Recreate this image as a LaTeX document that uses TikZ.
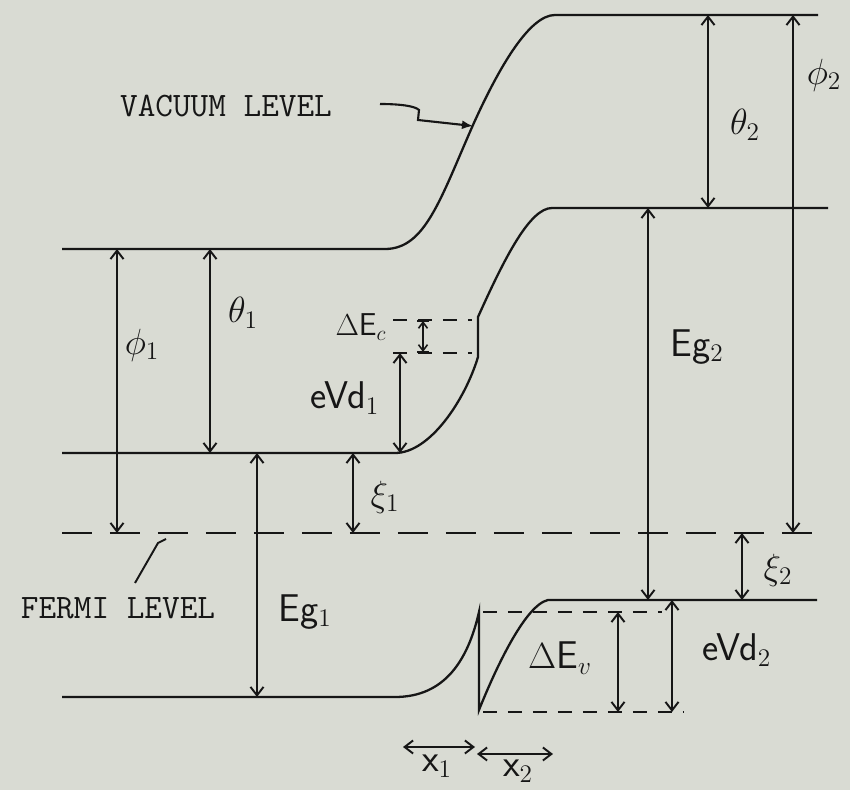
\documentclass[tikz,border=0pt]{standalone}
\usepackage{fontspec}
\usetikzlibrary{arrows.meta}
\definecolor{paper}{RGB}{217,219,211}
\definecolor{ink}{RGB}{22,22,22}

\begin{document}
\begin{tikzpicture}[x=0.02cm,y=-0.02cm,
    level/.style={line width=1.3pt,ink},
    fermi/.style={line width=1.2pt,ink,dash pattern=on 0.6cm off 0.36cm},
    offset/.style={line width=1pt,ink,dash pattern=on 0.28cm off 0.22cm},
    dim/.style={line width=1.1pt,ink,{Straight Barb[length=1.7mm,width=2.6mm]}-{Straight Barb[length=1.7mm,width=2.6mm]}},
    tw/.style={font=\ttfamily\fontsize{19.5}{21}\selectfont,text=ink},
    hw/.style={font=\sffamily\fontsize{22}{24}\selectfont,text=ink}
]
    \fill[paper] (0,0) rectangle (850,790);
    \useasboundingbox (0,0) rectangle (850,790);

    % Vacuum level
    \draw[level] (62,249) -- (385,249) .. controls (425,249) and (440,200) .. (473,125)
        .. controls (500,65) and (530,15) .. (555,15) -- (818,15);
    \coordinate (vacpt) at (473,126);

    % Conduction band
    \draw[level] (62,453) -- (395,453) .. controls (430,453) and (465,400) .. (478,357)
        -- (478,317) .. controls (505,257) and (530,208) .. (552,208) -- (828,208);

    % Valence band
    \draw[level] (62,697) -- (395,697) .. controls (445,697) and (468,660) .. (479,612)
        -- (479,710) .. controls (495,670) and (525,605) .. (548,600) -- (817,600);

    % Fermi level
    \draw[fermi] (62,533) -- (813,533);

    % Band offsets
    \draw[offset] (393,320) -- (472,320);
    \draw[offset] (393,353) -- (472,353);
    \draw[offset] (483,612) -- (662,612);
    \draw[offset] (483,712) -- (684,712);

    % Energy spacings
    \foreach \x/\a/\b in {117/249/533, 210/249/453, 257/453/697, 353/453/533,
                          400/453/353, 708/15/208, 793/15/533, 648/208/600,
                          742/533/600, 672/600/712, 618/612/712} {
        \draw[dim] (\x,\a) -- (\x,\b);
    }
    \draw[line width=0.9pt,ink,{Straight Barb[length=1.2mm,width=1.8mm]}-{Straight Barb[length=1.2mm,width=1.8mm]}] (423,321) -- (423,352);
    \draw[line width=0.9pt,ink] (417,321) -- (429,321) (417,352) -- (429,352);

    % Depletion widths
    \draw[dim] (403,747) -- (475,747);
    \draw[dim] (477,754) -- (553,754);

    % Labels
    \node[tw] (vac) at (226,106) {VACUUM LEVEL};
    \node[tw] (ef) at (118,608) {FERMI LEVEL};
    \draw[line width=1.2pt,ink,-{Latex[length=2.2mm,width=1.8mm]}] (380,104) .. controls (400,104) and (415,106) .. (419,110)
        -- (418,120) -- (vacpt);
    \draw[line width=1.1pt,ink] (135,583) -- (158,543) -- (166,539);

    \node[hw] (phiA) at (142,345) {$\phi_{1}$};
    \node[hw] (thA) at (243,313) {$\theta_{1}$};
    \node[hw,font=\sffamily\fontsize{18}{20}\selectfont] (dEc) at (361,327) {$\Delta$E$_{c}$};
    \node[hw] (eVdA) at (345,398) {eVd$_{1}$};
    \node[hw] (xiA) at (385,497) {$\xi_{1}$};
    \node[hw] (EgA) at (305,612) {Eg$_{1}$};
    \node[hw] (thB) at (745,125) {$\theta_{2}$};
    \node[hw] (phiB) at (824,75) {$\phi_{2}$};
    \node[hw] (EgB) at (697,347) {Eg$_{2}$};
    \node[hw] (xiB) at (778,570) {$\xi_{2}$};
    \node[hw] (eVdB) at (737,650) {eVd$_{2}$};
    \node[hw] (dEv) at (560,658) {$\Delta$E$_{v}$};
    \node[hw] (xA) at (437,766) {x$_{1}$};
    \node[hw] (xB) at (518,771) {x$_{2}$};
\end{tikzpicture}
\end{document}
